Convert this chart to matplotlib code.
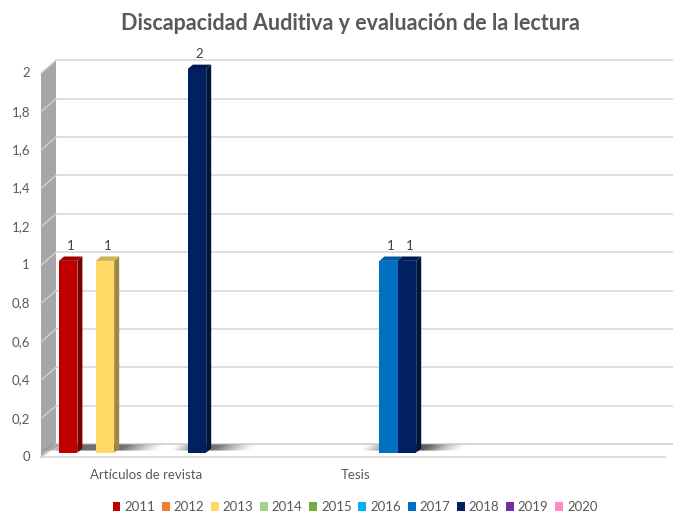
import matplotlib
matplotlib.use("Agg")
import matplotlib.pyplot as plt
import numpy as np
from matplotlib.patches import Polygon, Patch
from matplotlib.lines import Line2D
from matplotlib.transforms import IdentityTransform
from matplotlib.colors import to_rgb

# ---------------- data ----------------
categories = ['Artículos de revista', 'Tesis', '']
years = ['2011', '2012', '2013', '2014', '2015', '2016', '2017', '2018', '2019', '2020']
v2011 = [1, 0, 0]
v2012 = [0, 0, 0]
v2013 = [1, 0, 0]
v2014 = [0, 0, 0]
v2015 = [0, 0, 0]
v2016 = [0, 0, 0]
v2017 = [0, 1, 0]
v2018 = [2, 1, 0]
v2019 = [0, 0, 0]
v2020 = [0, 0, 0]
series = [v2011, v2012, v2013, v2014, v2015, v2016, v2017, v2018, v2019, v2020]
colors = ['#C00000', '#ED7D31', '#FFD966', '#A9D18E', '#70AD47',
          '#00B0F0', '#0070C0', '#002060', '#7030A0', '#FF8AC8']
yticks = [0, 0.2, 0.4, 0.6, 0.8, 1.0, 1.2, 1.4, 1.6, 1.8, 2.0]
ytick_labels = ['0', '0,2', '0,4', '0,6', '0,8', '1', '1,2', '1,4', '1,6', '1,8', '2']
title = 'Discapacidad Auditiva y evaluación de la lectura'

# ---------------- style ----------------
TXT = '#595959'
FONT = 'Lato'
W, H = 673, 513
fig = plt.figure(figsize=(W / 100, H / 100), dpi=100)
XMIN, XMAX = -0.5, 2.47
ax = fig.add_axes([46 / W, (H - 452.7) / H, (XMAX - XMIN) * 210 / W, 402.9 / H])
ax.set_xlim(XMIN, XMAX)
ax.set_ylim(0, 2.1)
ax.axis('off')

DX, DY = 5.0, 4.35  # depth step in pixels
gap = 13 / 210
bw = 18.4 / 210
ID = IdentityTransform()


def P(x, v, d):
    X, Y = ax.transData.transform((x, v))
    return (X + d * DX, Y + d * DY)


def poly(pts, **kw):
    p = Polygon(pts, closed=True, transform=ID, clip_on=False, **kw)
    ax.add_patch(p)
    return p


# floor
poly([P(XMIN, 0, -1), P(XMAX, 0, -1), P(XMAX, 0, 2), P(XMIN, 0, 2)],
     facecolor='#ffffff', edgecolor='none', zorder=1)
for d in (-1, 2):
    a, b = P(XMIN, 0, d), P(XMAX, 0, d)
    ax.add_line(Line2D([a[0], b[0]], [a[1], b[1]], transform=ID, clip_on=False,
                       color='#d9d9d9', lw=1.3, zorder=2))

# left wall
poly([P(XMIN, 0, -1), P(XMIN, 0, 2), P(XMIN, 2, 2), P(XMIN, 2, -1)],
     facecolor='#a6a6a6', edgecolor='none', zorder=2)
poly([P(XMIN, 0, -1), P(XMIN, 0, 2), P(XMIN + 0.02, 0, 2), P(XMIN + 0.005, 0, -1)],
     facecolor='#bfbfbf', edgecolor='none', zorder=2)

# gridlines on back wall, wall ticks and tick labels
for v, lab in zip(yticks, ytick_labels):
    a, b = P(XMIN, v, 2), P(XMAX, v, 2)
    ax.add_line(Line2D([a[0], b[0]], [a[1], b[1]], transform=ID, clip_on=False,
                       color='#d9d9d9', lw=1.2, zorder=1.5))
    c = P(XMIN, v, -1)
    ax.add_line(Line2D([c[0], a[0]], [c[1], a[1]], transform=ID, clip_on=False,
                       color='#d0d0d0', lw=1.0, zorder=2.5))
    fig.text((c[0] - 11) / W, c[1] / H, lab, ha='right', va='center',
             fontsize=9.5, color=TXT, family=FONT)

# category labels
for j, cat in enumerate(categories):
    c = P(j, 0, -1)
    fig.text(c[0] / W, (c[1] - 18) / H, cat, ha='center', va='center',
             fontsize=9.5, color=TXT, family=FONT)

# bars
bars_info = []
for i, (vals, col) in enumerate(zip(series, colors)):
    for j, v in enumerate(vals):
        if v <= 0:
            continue
        xl = j - 0.5 + gap + i * bw
        bars_info.append((xl, xl + bw, v, col))

# shadows
for xl, xr, v, col in bars_info:
    x0 = ax.transData.transform((xl, 0))[0]
    x1 = ax.transData.transform((xr, 0))[0]
    n = 24
    left_start = x0 - 20
    right_end = x1 + 42
    edges = np.linspace(left_start, right_end, n + 1)
    _, yb = P(xl, 0, 0)
    for k in range(n):
        xa, xb = edges[k], edges[k + 1]
        xm = 0.5 * (xa + xb)
        if xm < x0:
            al = 0.55 * (xm - left_start) / (x0 - left_start)
        elif xm <= x1 + 4:
            al = 0.75
        else:
            al = 0.75 * max(0, 1 - (xm - x1 - 4) / (right_end - x1 - 4)) ** 1.3
        pts = [(xa + 0.5 * DX, yb + 0.5 * DY), (xb + 0.5 * DX, yb + 0.5 * DY),
               (xb + 1.9 * DX, yb + 1.9 * DY), (xa + 1.9 * DX, yb + 1.9 * DY)]
        poly(pts, facecolor='#3a3a3a', alpha=al, edgecolor='none', zorder=3)

for k, (xl, xr, v, col) in enumerate(bars_info):
    rgb = np.array(to_rgb(col))
    side = tuple(rgb * 0.62)
    top = tuple(rgb * 0.82)
    z = 4 + k * 0.1
    poly([P(xr, 0, 0), P(xr, 0, 1), P(xr, v, 1), P(xr, v, 0)],
         facecolor=side, edgecolor='none', zorder=z)
    poly([P(xl, v, 0), P(xr, v, 0), P(xr, v, 1), P(xl, v, 1)],
         facecolor=top, edgecolor='none', zorder=z)
    ax.bar([(xl + xr) / 2], [v], width=bw, color=col, zorder=z + 0.05,
           clip_on=False, edgecolor='none')
    ax.annotate(f'{v:g}', xy=((xl + xr) / 2, v), xytext=(1.8, 10.5),
                textcoords='offset points', ha='center', va='center',
                fontsize=9.5, color='#404040', family=FONT, zorder=10,
                annotation_clip=False)

# title
fig.text(350 / W, 1 - 24 / H, title, ha='center', va='center', fontsize=15.5,
         fontweight='bold', color=TXT, family=FONT)

# legend
handles = [Patch(facecolor=c, edgecolor='none') for c in colors]
leg = fig.legend(handles, years, loc='center', bbox_to_anchor=(355 / W, 1 - 507 / H),
                 ncol=10, frameon=False, handlelength=0.6,
                 handleheight=0.6, handletextpad=0.3, columnspacing=0.5,
                 prop={'family': FONT, 'size': 9.5})
for t in leg.get_texts():
    t.set_color(TXT)

fig.savefig('out.png', dpi=100)
